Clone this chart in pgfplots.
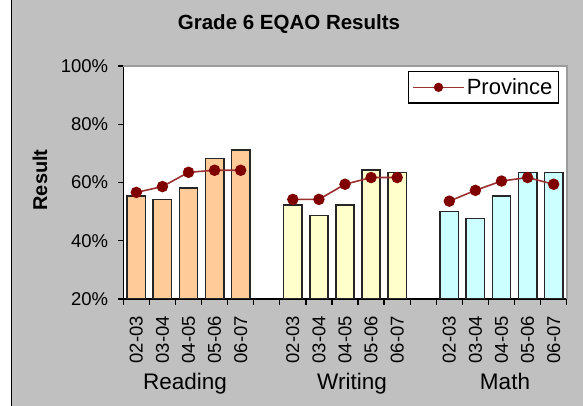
\documentclass[border=0pt]{standalone}
\usepackage{fontspec}
\setmainfont{Liberation Sans}
\usepackage{pgfplots}
\pgfplotsset{compat=1.18}
\definecolor{bg}{HTML}{C0C0C0}
\definecolor{readc}{HTML}{FFCC99}
\definecolor{writc}{HTML}{FFFFCC}
\definecolor{mathc}{HTML}{CCFFFF}
\definecolor{provm}{HTML}{800000}
\definecolor{provl}{HTML}{9A3030}
\definecolor{pborder}{HTML}{9C9C9C}
\begin{document}
\begin{tikzpicture}[x=1pt,y=1pt]
\useasboundingbox (0,0) rectangle (583,406);
\fill[white] (0,0) rectangle (583,406);
\fill[bg] (11,0) rectangle (583,406);
\draw[black, line width=1.5pt] (11.5,0) -- (11.5,406);
\begin{axis}[
  name=ax,
  at={(123.3pt,107pt)}, anchor=south west,
  scale only axis, width=443.4pt, height=233pt,
  xmin=-0.5, xmax=16.5, ymin=20, ymax=100,
  axis x line*=bottom, axis y line*=left,
  axis line style={black, line width=1.3pt},
  axis background/.style={fill=white},
  tick align=outside,
  xtick={0,1,2,3,4,6,7,8,9,10,12,13,14,15,16},
  xticklabels={02-03,03-04,04-05,05-06,06-07,02-03,03-04,04-05,05-06,06-07,02-03,03-04,04-05,05-06,06-07},
  major x tick style={draw=none},
  minor xtick={-0.5,0.5,...,16.5},
  minor tick length=6pt,
  major tick length=5pt,
  minor x tick style={black, line width=1.3pt},
  ytick={20,40,60,80,100},
  yticklabels={20\%,40\%,60\%,80\%,100\%},
  y tick style={black, line width=1.3pt},
  tick label style={font=\fontsize{18.5}{20}\selectfont},
  xticklabel style={rotate=90, anchor=east, inner sep=0pt},
  xticklabel shift=12pt,
  yticklabel style={anchor=east, inner sep=0pt},
  yticklabel shift=10pt,
  legend style={at={(1,1)}, anchor=north east, xshift=-7.7pt, yshift=-5pt,
    draw=black, line width=1.2pt, fill=white,
    font=\fontsize{22}{24}\selectfont, inner xsep=4pt, inner ysep=5pt},
  legend image code/.code={%
    \draw[#1, mark=none] (0pt,0pt) -- (51pt,0pt);
    \draw[#1, only marks, mark size=3.8pt] plot coordinates {(25.5pt,0pt)};},
]
\addplot[ybar, bar width=18.3pt, bar shift=0pt, fill=readc, draw=black!85, line width=1.6pt, forget plot]
  coordinates {(0,55.3)(1,54.1)(2,58.2)(3,68.2)(4,71.2)};
\addplot[ybar, bar width=18.3pt, bar shift=0pt, fill=writc, draw=black!85, line width=1.6pt, forget plot]
  coordinates {(6,52.3)(7,48.7)(8,52.3)(9,64.2)(10,63.5)};
\addplot[ybar, bar width=18.3pt, bar shift=0pt, fill=mathc, draw=black!85, line width=1.6pt, forget plot]
  coordinates {(12,50.0)(13,47.7)(14,55.3)(15,63.5)(16,63.5)};
\addplot[color=provl, line width=1.6pt, mark=*, mark size=4.9pt,
  mark options={fill=provm, draw=provm}, unbounded coords=jump]
  coordinates {(0,56.6)(1,58.6)(2,63.5)(3,64.2)(4,64.2)(5,nan)
  (6,54.2)(7,54.2)(8,59.4)(9,61.7)(10,61.7)(11,nan)
  (12,53.6)(13,57.3)(14,60.5)(15,61.7)(16,59.4)};
\addlegendentry{Province}
\end{axis}
\draw[pborder, line width=2pt] (ax.north west) -- (ax.north east) -- (ax.south east);
\node[anchor=base, font=\bfseries\fontsize{20.5}{22}\selectfont] at (289,376) {Grade 6 EQAO Results};
\node[rotate=90, font=\bfseries\fontsize{20}{22}\selectfont] at (40,226) {Result};
\node[anchor=base, font=\fontsize{22.5}{24}\selectfont] at (185,16) {Reading};
\node[anchor=base, font=\fontsize{22.5}{24}\selectfont] at (352,16) {Writing};
\node[anchor=base, font=\fontsize{22.5}{24}\selectfont] at (505,16) {Math};
\end{tikzpicture}
\end{document}
